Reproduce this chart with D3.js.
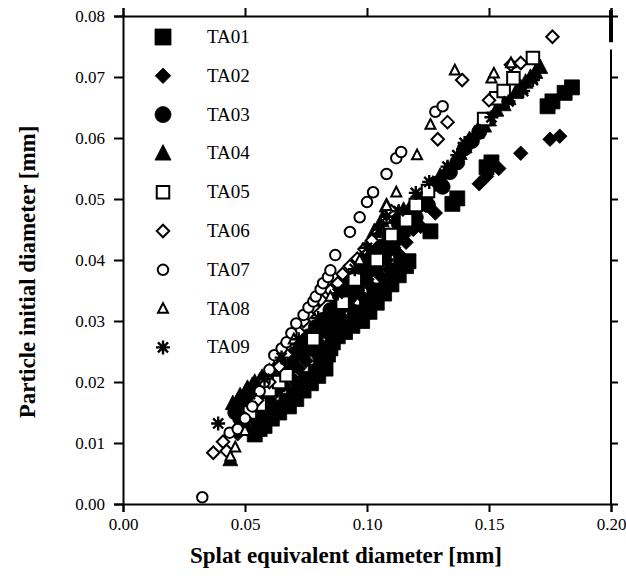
<!DOCTYPE html>
<html><head><meta charset="utf-8">
<script src="https://cdn.jsdelivr.net/npm/d3@7"></script>
<style>body{margin:0;background:#fff}svg{display:block}</style>
</head><body>
<script>
// ---- data ----
const seriesNames = ["TA01","TA02","TA03","TA04","TA05","TA06","TA07","TA08","TA09"];
const xTicks = [0.00,0.05,0.10,0.15,0.20];
const yTicks = [0.00,0.01,0.02,0.03,0.04,0.05,0.06,0.07,0.08];

const TA01 = [[0.054,0.0114],[0.056,0.0123],[0.057,0.0140],[0.060,0.0150],[0.063,0.0158],[0.067,0.0169],[0.070,0.0180],[0.072,0.0193],[0.075,0.0205],[0.079,0.0217],[0.081,0.0228],[0.082,0.0240],[0.085,0.0255],[0.086,0.0265],[0.090,0.0290],[0.093,0.0296],[0.095,0.0305],[0.097,0.0314],[0.100,0.0330],[0.103,0.0342],[0.105,0.0350],[0.108,0.0365],[0.111,0.0383],[0.114,0.0395],[0.126,0.0447],[0.135,0.0492],[0.137,0.0501],[0.149,0.0552],[0.151,0.0560],[0.174,0.0652],[0.176,0.0660],[0.181,0.0674],[0.184,0.0683],
  [0.058,0.0128],[0.061,0.0140],[0.064,0.0150],[0.068,0.0160],[0.071,0.0172],[0.074,0.0186],[0.077,0.0198],[0.080,0.0210],[0.083,0.0222],[0.084,0.0245],[0.088,0.0275],[0.091,0.0282],[0.094,0.0292],[0.098,0.0300],[0.101,0.0315],[0.104,0.0330],[0.107,0.0345],[0.110,0.0360],[0.113,0.0375],[0.116,0.0390],[0.117,0.0398]];
const TA02 = [[0.047,0.0115],[0.050,0.0128],[0.053,0.0140],[0.056,0.0155],[0.060,0.0172],[0.063,0.0185],[0.066,0.0195],[0.069,0.0208],[0.072,0.0222],[0.075,0.0235],[0.078,0.0250],[0.081,0.0262],[0.084,0.0278],[0.087,0.0292],[0.090,0.0305],[0.094,0.0320],[0.098,0.0340],[0.102,0.0355],[0.106,0.0372],[0.109,0.0385],[0.113,0.0410],[0.116,0.0429],[0.122,0.0455],[0.128,0.0477],[0.146,0.0525],[0.149,0.0537],[0.154,0.0550],[0.163,0.0575],[0.175,0.0598],[0.179,0.0603],
  [0.058,0.0180],[0.062,0.0195],[0.066,0.0210],[0.070,0.0225],[0.074,0.0243],[0.077,0.0262],[0.080,0.0275],[0.083,0.0290],[0.086,0.0305],[0.092,0.0335],[0.096,0.0350],[0.100,0.0368],[0.104,0.0385],[0.108,0.0400],[0.111,0.0420],[0.115,0.0440],[0.119,0.0450]];
const TA03 = [[0.048,0.0140],[0.050,0.0155],[0.052,0.0165],[0.055,0.0180],[0.058,0.0195],[0.061,0.0205],[0.064,0.0220],[0.067,0.0232],[0.070,0.0245],[0.073,0.0260],[0.076,0.0275],[0.079,0.0290],[0.082,0.0302],[0.085,0.0318],[0.088,0.0332],[0.091,0.0348],[0.094,0.0362],[0.097,0.0378],[0.100,0.0393],[0.103,0.0408],[0.106,0.0422],[0.109,0.0440],[0.113,0.0460],[0.118,0.0480],[0.123,0.0500],[0.128,0.0525],[0.134,0.0544],[0.140,0.0583],[0.146,0.0610],
  [0.046,0.0150],[0.049,0.0165],[0.053,0.0178],[0.057,0.0188],[0.060,0.0198],[0.063,0.0210],[0.066,0.0222],[0.069,0.0236],[0.072,0.0250],[0.075,0.0262],[0.078,0.0275],[0.081,0.0288],[0.084,0.0300],[0.087,0.0312],[0.090,0.0325],[0.093,0.0340],[0.096,0.0355],[0.099,0.0370],[0.102,0.0385],[0.105,0.0400],[0.108,0.0415],[0.111,0.0430],[0.115,0.0448],[0.120,0.0470],[0.125,0.0490],[0.131,0.0520],[0.137,0.0560],[0.143,0.0595]];
const TA04 = [[0.044,0.0073],[0.045,0.0165],[0.048,0.0178],[0.051,0.0190],[0.054,0.0200],[0.057,0.0208],[0.060,0.0218],[0.064,0.0228],[0.068,0.0240],[0.071,0.0252],[0.074,0.0265],[0.077,0.0280],[0.080,0.0295],[0.084,0.0298],[0.086,0.0320],[0.089,0.0345],[0.092,0.0365],[0.095,0.0385],[0.098,0.0405],[0.101,0.0425],[0.103,0.0447],[0.106,0.0465],[0.108,0.0489],[0.113,0.0478],[0.118,0.0489],[0.124,0.0510],[0.130,0.0538],[0.136,0.0562],[0.140,0.0586],[0.145,0.0610],[0.150,0.0630],[0.153,0.0646],[0.158,0.0665],[0.163,0.0683],[0.167,0.0700],[0.171,0.0716],
  [0.047,0.0170],[0.050,0.0182],[0.053,0.0195],[0.056,0.0202],[0.059,0.0212],[0.062,0.0222],[0.066,0.0232],[0.069,0.0245],[0.072,0.0258],[0.075,0.0270],[0.079,0.0285],[0.082,0.0300],[0.087,0.0330],[0.090,0.0352],[0.093,0.0372],[0.096,0.0392],[0.100,0.0415],[0.110,0.0470],[0.115,0.0482],[0.120,0.0498],[0.127,0.0525],[0.133,0.0550],[0.138,0.0575],[0.142,0.0598],[0.148,0.0620],[0.156,0.0655],[0.161,0.0675],[0.165,0.0692],[0.169,0.0708]];
const TA05 = [[0.052,0.0150],[0.056,0.0163],[0.060,0.0187],[0.064,0.0200],[0.067,0.0211],[0.078,0.0270],[0.090,0.0330],[0.095,0.0368],[0.104,0.0400],[0.110,0.0441],[0.116,0.0465],[0.120,0.0490],[0.125,0.0513],[0.148,0.0631],[0.153,0.0665],[0.156,0.0677],[0.160,0.0698],[0.168,0.0731]];
const TA06 = [[0.037,0.0084],[0.041,0.0102],[0.0425,0.0087],[0.047,0.0123],[0.050,0.0140],[0.055,0.0170],[0.060,0.0200],[0.064,0.0225],[0.067,0.0245],[0.070,0.0270],[0.072,0.0282],[0.074,0.0300],[0.076,0.0312],[0.078,0.0323],[0.081,0.0335],[0.085,0.0350],[0.088,0.0362],[0.090,0.0377],[0.093,0.0390],[0.096,0.0402],[0.099,0.0418],[0.102,0.0432],[0.105,0.0450],[0.108,0.0468],[0.110,0.0480],[0.129,0.0598],[0.133,0.0626],[0.139,0.0695],[0.150,0.0662],[0.159,0.0720],[0.163,0.0723],[0.176,0.0766]];
const TA07 = [[0.0325,0.0011],[0.0437,0.0117],[0.047,0.0123],[0.050,0.0140],[0.053,0.0160],[0.056,0.0185],[0.058,0.0200],[0.060,0.0220],[0.062,0.0244],[0.065,0.0255],[0.067,0.0265],[0.069,0.0280],[0.071,0.0296],[0.074,0.0310],[0.076,0.0322],[0.078,0.0332],[0.079,0.0340],[0.081,0.0352],[0.082,0.0362],[0.084,0.0372],[0.085,0.0383],[0.087,0.0408],[0.093,0.0446],[0.097,0.0470],[0.100,0.0495],[0.1025,0.0511],[0.108,0.0541],[0.112,0.0567],[0.114,0.0577],[0.128,0.0643],[0.131,0.0652]];
const TA08 = [[0.044,0.0078],[0.046,0.0093],[0.050,0.0120],[0.070,0.0270],[0.085,0.0340],[0.097,0.0400],[0.104,0.0450],[0.108,0.0489],[0.112,0.0511],[0.1205,0.0572],[0.126,0.0622],[0.136,0.0711],[0.151,0.0698],[0.152,0.0706],[0.159,0.0723]];
const TA09 = [[0.039,0.0132],[0.052,0.0180],[0.058,0.0205],[0.065,0.0240],[0.072,0.0270],[0.080,0.0305],[0.088,0.0345],[0.095,0.0385],[0.100,0.0420],[0.105,0.0450],[0.108,0.0471],[0.113,0.0480],[0.120,0.0510],[0.1255,0.0528],[0.133,0.0553],[0.137,0.0572],[0.140,0.0592],[0.146,0.0612],[0.151,0.0634],[0.158,0.0660],[0.164,0.0677],[0.168,0.0695]];

const seriesData = [TA01,TA02,TA03,TA04,TA05,TA06,TA07,TA08,TA09];

// ---- layout ----
const W = 626, H = 578;
const L = 123, R = 611, T = 16, B = 504;
const svg = d3.select("body").append("svg").attr("width", W).attr("height", H);
const x = d3.scaleLinear().domain([0, 0.2]).range([L, R]);
const y = d3.scaleLinear().domain([0, 0.08]).range([B, T]);

const shapes = {
  square: s => `M${-s/2},${-s/2}h${s}v${s}h${-s}Z`,
  diamond: s => `M0,${-s/2}L${s/2},0L0,${s/2}L${-s/2},0Z`,
  circle: s => `M${s/2},0A${s/2},${s/2} 0 1 1 ${-s/2},0A${s/2},${s/2} 0 1 1 ${s/2},0Z`,
  triangle: s => `M0,${-s*0.55}L${s/2},${s*0.42}L${-s/2},${s*0.42}Z`,
  star: s => { const r=s/2, d=r*0.72; return `M0,${-r}V${r}M${-r},0H${r}M${-d},${-d}L${d},${d}M${d},${-d}L${-d},${d}`; }
};
const styles = [
  {shape:"square",  size:15, fill:"#000", stroke:"#000", sw:0.8},
  {shape:"diamond", size:14.5, fill:"#000", stroke:"#000", sw:0.8},
  {shape:"circle",  size:15, fill:"#000", stroke:"#000", sw:0.8},
  {shape:"triangle",size:15, fill:"#000", stroke:"#000", sw:0.8},
  {shape:"square",  size:12.5, fill:"#fff", stroke:"#000", sw:2},
  {shape:"diamond", size:12.5, fill:"#fff", stroke:"#000", sw:2},
  {shape:"circle",  size:10.5, fill:"#fff", stroke:"#000", sw:2},
  {shape:"triangle",size:10, fill:"#fff", stroke:"#000", sw:2},
  {shape:"star",    size:14, fill:"none", stroke:"#000", sw:2.4}
];

// ---- points ----
const gPts = svg.append("g");
seriesData.forEach((data, i) => {
  const st = styles[i];
  gPts.append("g").selectAll("path").data(data).join("path")
    .attr("d", shapes[st.shape](st.size))
    .attr("transform", d => `translate(${x(d[0])},${y(d[1])})`)
    .attr("fill", st.fill).attr("stroke", st.stroke).attr("stroke-width", st.sw);
});

// ---- axes ----
const font = "'Liberation Serif','Times New Roman',serif";
const axB = svg.append("g").attr("transform", `translate(0,${B})`)
  .call(d3.axisBottom(x).tickValues(xTicks).tickFormat(d3.format(".2f")).tickSize(8).tickPadding(4));
const axT = svg.append("g").attr("transform", `translate(0,${T})`)
  .call(d3.axisTop(x).tickValues(xTicks).tickFormat("").tickSize(8));
const axLft = svg.append("g").attr("transform", `translate(${L},0)`)
  .call(d3.axisLeft(y).tickValues(yTicks).tickFormat(d3.format(".2f")).tickSize(9).tickPadding(9));
const axRt = svg.append("g").attr("transform", `translate(${R},0)`)
  .call(d3.axisRight(y).tickValues(yTicks).tickFormat("").tickSize(7));
[axB, axT, axLft, axRt].forEach(a => {
  a.select(".domain").attr("stroke", "#000").attr("stroke-width", 2);
  a.selectAll(".tick line").attr("stroke", "#000").attr("stroke-width", 2);
  a.selectAll("text").attr("font-family", font).attr("font-size", 17).attr("fill", "#000");
});
axB.selectAll(".tick text").attr("dy", "0.85em");
axRt.select(".domain").remove();
svg.append("line").attr("x1", R).attr("x2", R).attr("y1", y(0.0745)).attr("y2", B).attr("stroke","#000").attr("stroke-width",2);
svg.append("line").attr("x1", R).attr("x2", R).attr("y1", T-6).attr("y2", y(0.0757)).attr("stroke","#000").attr("stroke-width",4);

// ---- titles ----
svg.append("text").attr("x", 346).attr("y", 563).attr("text-anchor","middle")
  .attr("font-family", font).attr("font-weight","bold").attr("font-size", 23)
  .text("Splat equivalent diameter [mm]");
svg.append("text").attr("transform", `translate(35,272) rotate(-90)`).attr("text-anchor","middle")
  .attr("font-family", font).attr("font-weight","bold").attr("font-size", 23)
  .text("Particle initial diameter [mm]");

// ---- legend ----
const lg = svg.append("g");
seriesNames.forEach((name, i) => {
  const st = styles[i];
  const cy = 37 + i * 38.8;
  lg.append("path").attr("d", shapes[st.shape](st.size + (i < 4 ? 1 : 0)))
    .attr("transform", `translate(163,${cy})`)
    .attr("fill", st.fill).attr("stroke", st.stroke).attr("stroke-width", st.sw);
  lg.append("text").attr("x", 207).attr("y", cy + 6).attr("font-family", font)
    .attr("font-size", 19).attr("fill", "#000").text(name);
});
</script>
</body></html>
